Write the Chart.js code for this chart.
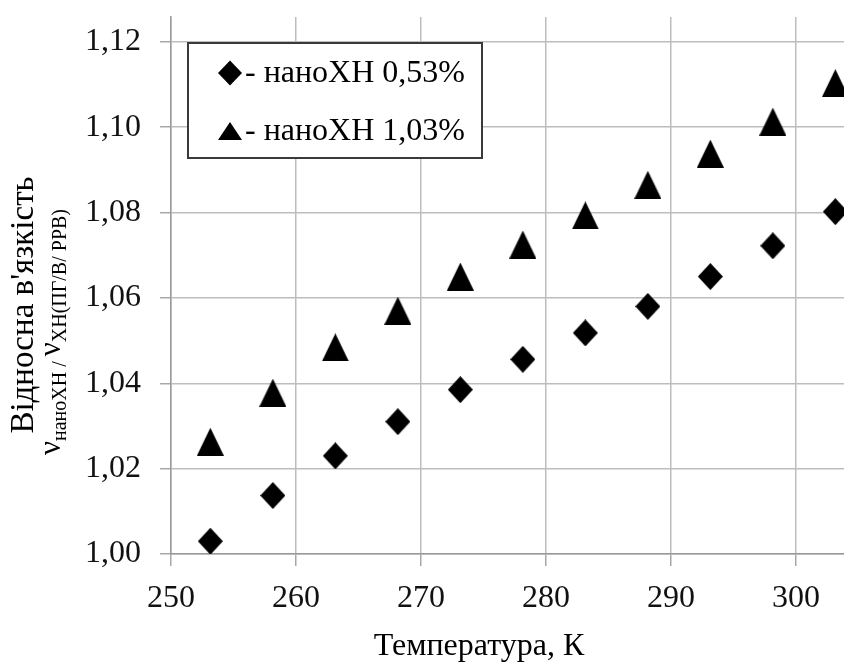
<!DOCTYPE html>
<html>
<head>
<meta charset="utf-8">
<script src="https://cdn.jsdelivr.net/npm/chart.js@4.4.1/dist/chart.umd.min.js"></script>
<style>
  html, body { margin: 0; padding: 0; background: #ffffff; overflow: hidden; }
  #wrap { width: 844px; height: 663px; }
</style>
</head>
<body>
<div id="wrap"><canvas id="c" width="844" height="663"></canvas></div>
<script>
// ---- data ----
const temperatureK = [253.15, 258.15, 263.15, 268.15, 273.15, 278.15, 283.15, 288.15, 293.15, 298.15, 303.15];
const nano053 = [1.0030, 1.0137, 1.0230, 1.0310, 1.0385, 1.0456, 1.0518, 1.0580, 1.0650, 1.0722, 1.0802];
const nano103 = [1.0263, 1.0378, 1.0484, 1.0570, 1.0650, 1.0725, 1.0793, 1.0865, 1.0938, 1.1013, 1.1103];
const seriesLabels = ['наноХН 0,53%', 'наноХН 1,03%'];
const xTickValues = [250, 260, 270, 280, 290, 300];
const yTickValues = [1.00, 1.02, 1.04, 1.06, 1.08, 1.10, 1.12];
const xTitle = 'Температура, К';
const yTitleLine1 = "Відносна в'язкість";
const yTitleLine2 = [['ν', 'main'], ['наноХН / ', 'sub'], ['ν', 'main'], ['ХН(ПГ/В/ РРВ)', 'sub']];

const FONT = '"Liberation Serif", "Times New Roman", serif';

function makeDiamond(w, h) {
  const c = document.createElement('canvas');
  c.width = w; c.height = h;
  const g = c.getContext('2d');
  g.fillStyle = '#000';
  g.beginPath();
  g.moveTo(w / 2, 0); g.lineTo(w, h / 2); g.lineTo(w / 2, h); g.lineTo(0, h / 2);
  g.closePath(); g.fill();
  return c;
}
function makeTriangle(w, h) {
  const c = document.createElement('canvas');
  c.width = w; c.height = h;
  const g = c.getContext('2d');
  g.fillStyle = '#000';
  g.beginPath();
  g.moveTo(w / 2, 0); g.lineTo(w, h); g.lineTo(0, h);
  g.closePath(); g.fill();
  return c;
}
const diamondImg = makeDiamond(25, 27);
const triangleImg = makeTriangle(27, 28);

function pts(xs, ys) { return xs.map((x, i) => ({ x: x, y: ys[i] })); }

const annotations = {
  id: 'annotations',
  afterDraw(chart) {
    const ctx = chart.ctx;
    ctx.save();
    // legend box
    const bx = 188, by = 43, bw = 294, bh = 115;
    ctx.fillStyle = '#ffffff';
    ctx.fillRect(bx, by, bw, bh);
    ctx.strokeStyle = '#3a3a3a';
    ctx.lineWidth = 2;
    ctx.strokeRect(bx, by, bw, bh);
    const ds = chart.data.datasets;
    const rows = [73, 131];
    ctx.fillStyle = '#000';
    ctx.beginPath();
    ctx.moveTo(230, rows[0] - 12.5); ctx.lineTo(242, rows[0]); ctx.lineTo(230, rows[0] + 12.5); ctx.lineTo(218, rows[0]);
    ctx.closePath(); ctx.fill();
    ctx.beginPath();
    ctx.moveTo(230, rows[1] - 9); ctx.lineTo(242, rows[1] + 9); ctx.lineTo(218, rows[1] + 9);
    ctx.closePath(); ctx.fill();
    ctx.font = '32px ' + FONT;
    ctx.textAlign = 'left';
    ctx.textBaseline = 'middle';
    ctx.fillText('- ' + ds[0].label, 245, rows[0] + 1);
    ctx.fillText('- ' + ds[1].label, 245, rows[1] + 1);

    // x title
    ctx.textAlign = 'center';
    ctx.textBaseline = 'alphabetic';
    ctx.font = '32px ' + FONT;
    ctx.fillText(xTitle, 479, 655);

    // y title line 1
    ctx.save();
    ctx.translate(33, 305);
    ctx.rotate(-Math.PI / 2);
    ctx.font = '33px ' + FONT;
    ctx.textAlign = 'center';
    ctx.fillText(yTitleLine1, 0, 0);
    ctx.restore();

    // y title line 2 with subscripts
    ctx.save();
    ctx.translate(60, 332);
    ctx.rotate(-Math.PI / 2);
    ctx.textAlign = 'left';
    const fonts = { main: '31px ' + FONT, sub: '20px ' + FONT };
    let total = 0;
    const widths = yTitleLine2.map(([t, k]) => { ctx.font = fonts[k]; const w = ctx.measureText(t).width; total += w; return w; });
    let x = -total / 2;
    yTitleLine2.forEach(([t, k], i) => {
      ctx.font = fonts[k];
      ctx.fillText(t, x, k === 'sub' ? 6 : 0);
      x += widths[i];
    });
    ctx.restore();
    ctx.restore();
  }
};

new Chart(document.getElementById('c'), {
  type: 'scatter',
  data: {
    datasets: [
      { label: seriesLabels[0], data: pts(temperatureK, nano053), pointStyle: diamondImg, backgroundColor: '#000', borderColor: '#000', showLine: false },
      { label: seriesLabels[1], data: pts(temperatureK, nano103), pointStyle: triangleImg, backgroundColor: '#000', borderColor: '#000', showLine: false }
    ]
  },
  options: {
    responsive: false,
    animation: false,
    layout: { autoPadding: false, padding: { top: 17, right: 0, bottom: 0, left: 0 } },
    plugins: { legend: { display: false }, tooltip: { enabled: false } },
    scales: {
      x: {
        type: 'linear',
        min: 250, max: 303.84,
        afterBuildTicks: s => { s.ticks = xTickValues.map(v => ({ value: v })); },
        afterFit: s => { s.height = 109; s.paddingLeft = 0; s.paddingRight = 0; },
        grid: { color: '#bdbdbd', lineWidth: 1.5, tickLength: 12, tickColor: '#a8a8a8' },
        border: { color: '#9a9a9a', width: 1.5 },
        ticks: { color: '#111', padding: 13, font: { family: FONT, size: 32 }, maxRotation: 0, autoSkip: false, callback: v => String(v) }
      },
      y: {
        min: 1.0, max: 1.1258,
        afterBuildTicks: s => { s.ticks = yTickValues.map(v => ({ value: v })); },
        afterFit: s => { s.width = 171; s.paddingTop = 0; s.paddingBottom = 0; },
        grid: { color: '#bdbdbd', lineWidth: 1.5, tickLength: 11, tickColor: '#a8a8a8' },
        border: { color: '#9a9a9a', width: 1.5 },
        ticks: { color: '#111', padding: 19, font: { family: FONT, size: 32 }, autoSkip: false, callback: v => v.toFixed(2).replace('.', ',') }
      }
    }
  },
  plugins: [annotations]
});
</script>
</body>
</html>
